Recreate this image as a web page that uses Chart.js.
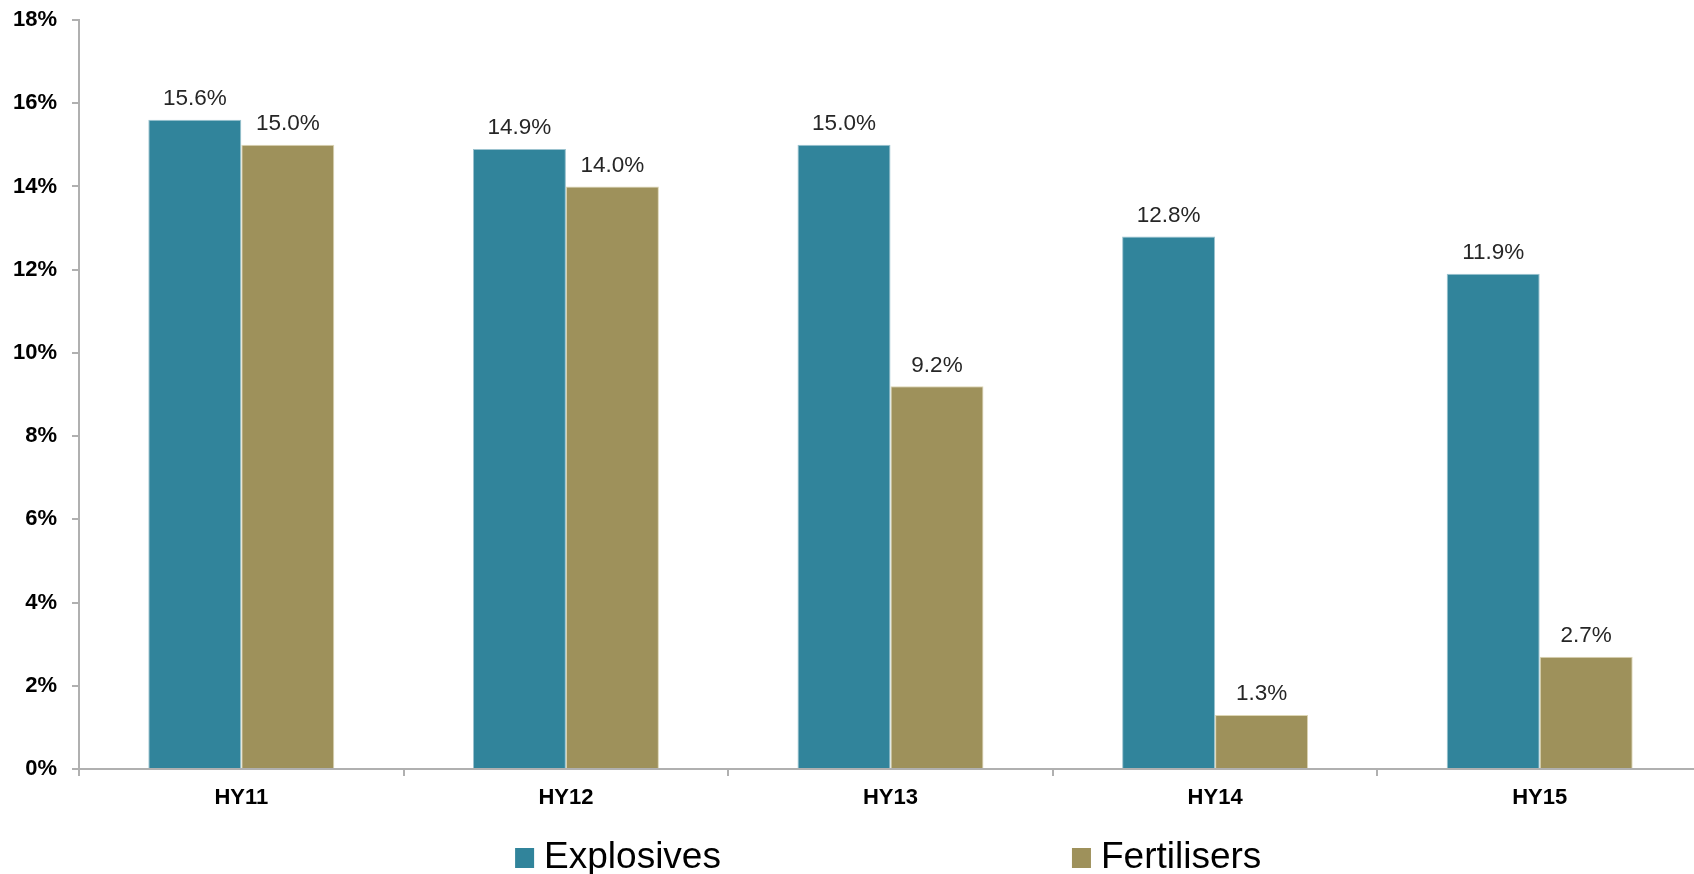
<!DOCTYPE html>
<html>
<head>
<meta charset="utf-8">
<script src="https://cdn.jsdelivr.net/npm/chart.js@4.4.1/dist/chart.umd.min.js"></script>
<style>
html,body{margin:0;padding:0;background:#fff;overflow:hidden;width:1694px;height:874px}
#c{display:block}
</style>
</head>
<body>
<canvas id="c" width="1702" height="874"></canvas>
<script>
const categories = ['HY11', 'HY12', 'HY13', 'HY14', 'HY15'];
const seriesNames = ['Explosives', 'Fertilisers'];
const explosives = [15.6, 14.9, 15.0, 12.8, 11.9];
const fertilisers = [15.0, 14.0, 9.2, 1.3, 2.7];
const yMin = 0, yMax = 18, yStep = 2;

const FONT = '"Liberation Sans", Arial, sans-serif';
const AXIS = '#b0b0b0';

const valueLabels = {
  id: 'valueLabels',
  afterDatasetsDraw(chart) {
    const ctx = chart.ctx;
    ctx.save();
    ctx.font = '22.5px ' + FONT;
    ctx.fillStyle = '#262626';
    ctx.textAlign = 'center';
    ctx.textBaseline = 'alphabetic';
    chart.data.datasets.forEach((ds, di) => {
      const meta = chart.getDatasetMeta(di);
      meta.data.forEach((bar, i) => {
        ctx.fillText(ds.data[i].toFixed(1) + '%', bar.x, bar.y - 14.5);
      });
    });
    ctx.restore();
  }
};

const bottomLegend = {
  id: 'bottomLegend',
  afterDraw(chart, args, opts) {
    const ctx = chart.ctx;
    const ca = chart.chartArea;
    ctx.save();
    ctx.font = '37px ' + FONT;
    ctx.textBaseline = 'alphabetic';
    ctx.textAlign = 'left';
    chart.data.datasets.forEach((ds, i) => {
      const x = ca.left + opts.positions[i] * (ca.right - ca.left);
      const y = opts.y;
      ctx.fillStyle = ds.backgroundColor;
      ctx.fillRect(x, y - 20, 19, 20);
      ctx.fillStyle = '#000';
      ctx.fillText(ds.label, x + 29, y);
    });
    ctx.restore();
  }
};

new Chart(document.getElementById('c'), {
  type: 'bar',
  data: {
    labels: categories,
    datasets: [
      {
        label: seriesNames[0],
        data: explosives,
        backgroundColor: '#31849b',
        borderColor: '#9cc3cf',
        borderWidth: 1,
        categoryPercentage: 0.573,
        barPercentage: 1.0
      },
      {
        label: seriesNames[1],
        data: fertilisers,
        backgroundColor: '#9e915b',
        borderColor: '#ddd6b4',
        borderWidth: 1,
        categoryPercentage: 0.573,
        barPercentage: 1.0
      }
    ]
  },
  options: {
    responsive: false,
    animation: false,
    devicePixelRatio: 1,
    layout: { padding: { left: 0, top: 20, right: 0, bottom: 60 } },
    plugins: {
      legend: { display: false },
      tooltip: { enabled: false },
      bottomLegend: { positions: [0.2687, 0.6118], y: 868 }
    },
    scales: {
      x: {
        grid: { display: true, drawOnChartArea: false, drawTicks: true, tickLength: 7, tickColor: AXIS, offset: true, lineWidth: 2 },
        border: { display: true, color: AXIS, width: 2 },
        ticks: { color: '#000', font: { family: FONT, size: 22, weight: 'bold' }, padding: 9, maxRotation: 0 },
        afterFit(scale) { scale.height = 45; }
      },
      y: {
        min: yMin,
        max: yMax,
        grid: { display: true, drawOnChartArea: false, drawTicks: true, tickLength: 7, tickColor: AXIS, lineWidth: 2 },
        border: { display: true, color: AXIS, width: 2 },
        ticks: {
          stepSize: yStep,
          color: '#000',
          font: { family: FONT, size: 22, weight: 'bold' },
          padding: 15,
          callback: v => v + '%'
        },
        afterFit(scale) {
          scale.width = 79;
          scale.paddingTop = 12;
          scale.paddingBottom = 0;
        }
      }
    }
  },
  plugins: [valueLabels, bottomLegend]
});
</script>
</body>
</html>
